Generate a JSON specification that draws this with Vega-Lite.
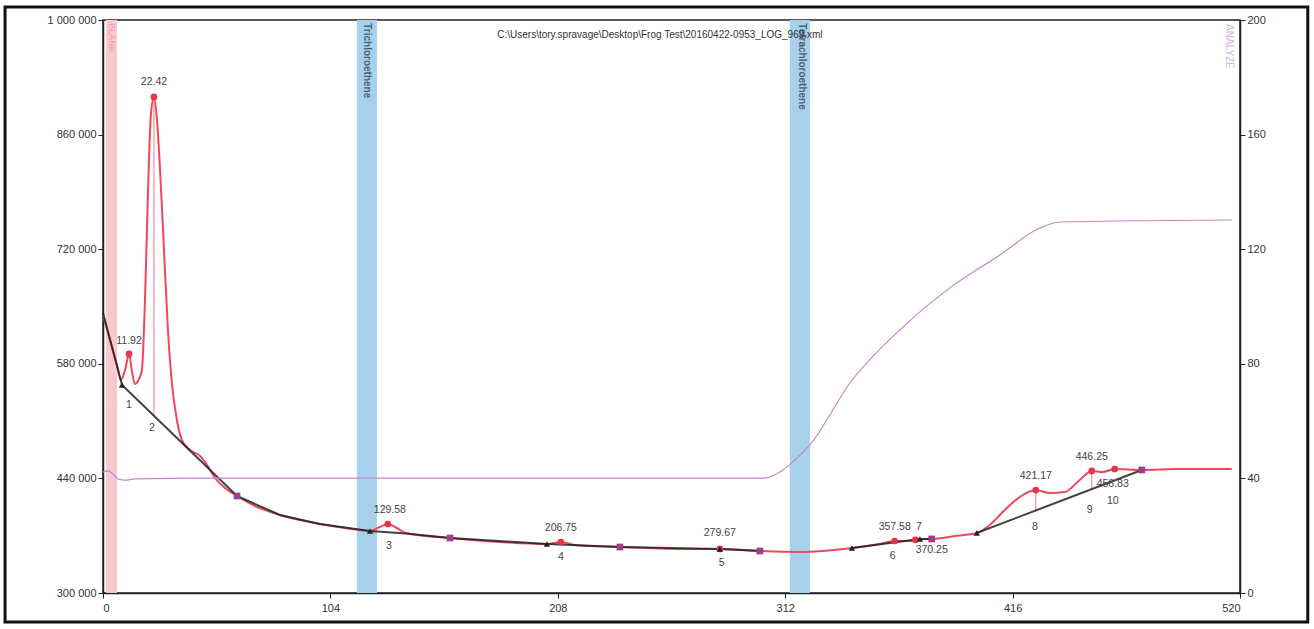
{
  "$schema": "https://vega.github.io/schema/vega-lite/v6.json",
  "width": 1137,
  "height": 573,
  "autosize": {"type": "none"},
  "padding": {"left": 103, "top": 20, "right": 74, "bottom": 36},
  "background": "white",
  "config": {
    "view": {"stroke": "#222", "strokeWidth": 1.5},
    "font": "Liberation Sans",
    "axis": {
      "grid": false,
      "domainColor": "#222",
      "domainWidth": 1.5,
      "tickColor": "#222",
      "tickSize": 5,
      "labelFont": "Liberation Sans",
      "labelFontSize": 11,
      "labelColor": "#333",
      "title": null
    }
  },
  "datasets": {
    "signal": [
      {"x": 0, "v": 639600}, {"x": 3.2, "v": 609100}, {"x": 6.4, "v": 578500}, {"x": 8.2, "v": 560200},
      {"x": 10.1, "v": 572400}, {"x": 11.9, "v": 592000}, {"x": 13.3, "v": 570000}, {"x": 14.6, "v": 555300},
      {"x": 16.5, "v": 561500}, {"x": 17.8, "v": 572400}, {"x": 19.2, "v": 658000}, {"x": 20.6, "v": 792300},
      {"x": 21.9, "v": 884000}, {"x": 23.3, "v": 906000}, {"x": 24.7, "v": 877800}, {"x": 26.1, "v": 816800},
      {"x": 27.9, "v": 719000}, {"x": 29.7, "v": 621300}, {"x": 31.6, "v": 554100}, {"x": 33.8, "v": 511400},
      {"x": 36.1, "v": 486900}, {"x": 39.8, "v": 474700}, {"x": 44.4, "v": 467400}, {"x": 47.6, "v": 456400},
      {"x": 51.2, "v": 440500}, {"x": 55.8, "v": 428300}, {"x": 61.3, "v": 418500}, {"x": 69.5, "v": 406300},
      {"x": 80.9, "v": 395300}, {"x": 99.2, "v": 384300}, {"x": 110.7, "v": 379400}, {"x": 122.1, "v": 375800},
      {"x": 126.6, "v": 380600}, {"x": 130.3, "v": 384300}, {"x": 134.4, "v": 379400}, {"x": 138.5, "v": 373300},
      {"x": 158.7, "v": 367200}, {"x": 181.5, "v": 362300}, {"x": 203, "v": 359900}, {"x": 209.4, "v": 362300},
      {"x": 215.8, "v": 358700}, {"x": 236.4, "v": 356200}, {"x": 263.8, "v": 353800}, {"x": 282.1, "v": 353800},
      {"x": 300.4, "v": 351300}, {"x": 318.7, "v": 350100}, {"x": 342.5, "v": 355000}, {"x": 355.3, "v": 359900},
      {"x": 362.1, "v": 363500}, {"x": 369, "v": 363500}, {"x": 373.6, "v": 366000}, {"x": 379, "v": 366000},
      {"x": 389.6, "v": 369600}, {"x": 399.6, "v": 373300}, {"x": 405.6, "v": 383100}, {"x": 412.4, "v": 401400},
      {"x": 419.3, "v": 417300}, {"x": 426.6, "v": 425800}, {"x": 433, "v": 422200}, {"x": 439.9, "v": 423400},
      {"x": 446.7, "v": 438100}, {"x": 452.2, "v": 449100}, {"x": 457.2, "v": 447800}, {"x": 462.7, "v": 451500},
      {"x": 475.1, "v": 450300}, {"x": 492.5, "v": 451500}, {"x": 516.2, "v": 451500}
    ],
    "baseline": [
      {"seg": "A", "x": 0, "v": 642100}, {"seg": "A", "x": 8.7, "v": 554100}, {"seg": "A", "x": 61.3, "v": 418500},
      {"seg": "B", "x": 61.3, "v": 418500}, {"seg": "B", "x": 80.9, "v": 395300}, {"seg": "B", "x": 99.2, "v": 384300},
      {"seg": "B", "x": 122.1, "v": 375800}, {"seg": "B", "x": 138.5, "v": 372800}, {"seg": "B", "x": 158.7, "v": 367200},
      {"seg": "B", "x": 203, "v": 359900}, {"seg": "B", "x": 236.4, "v": 356200}, {"seg": "B", "x": 282.1, "v": 353800},
      {"seg": "B", "x": 300.4, "v": 351300},
      {"seg": "C", "x": 342.5, "v": 355000}, {"seg": "C", "x": 373.6, "v": 366000}, {"seg": "C", "x": 379, "v": 366000},
      {"seg": "D", "x": 399.6, "v": 373300}, {"seg": "D", "x": 475.1, "v": 450300}
    ],
    "temp": [
      {"x": 0, "t": 42.2}, {"x": 2.3, "t": 42.6}, {"x": 4.6, "t": 41.5}, {"x": 6.9, "t": 39.8},
      {"x": 10.1, "t": 39.4}, {"x": 14.6, "t": 39.8}, {"x": 44.4, "t": 40.1}, {"x": 135.8, "t": 40.1},
      {"x": 302.7, "t": 40.1}, {"x": 309.6, "t": 42.2}, {"x": 316.4, "t": 46.4}, {"x": 323.3, "t": 51.7},
      {"x": 341.6, "t": 73.3}, {"x": 364.4, "t": 91.8}, {"x": 387.3, "t": 106.5}, {"x": 410.2, "t": 118},
      {"x": 428.4, "t": 127.4}, {"x": 437.6, "t": 129.5}, {"x": 516.2, "t": 130.2}
    ],
    "peaks": [
      {"x": 11.9, "v": 592000}, {"x": 23.3, "v": 906000}, {"x": 130.3, "v": 384300}, {"x": 209.4, "v": 362300},
      {"x": 282.1, "v": 353800}, {"x": 362.1, "v": 363500}, {"x": 371.5, "v": 365000}, {"x": 426.6, "v": 425800},
      {"x": 452.2, "v": 449100}, {"x": 462.7, "v": 451500}
    ],
    "triangles": [
      {"x": 8.7, "v": 554100}, {"x": 122.1, "v": 375800}, {"x": 203, "v": 359900}, {"x": 282.1, "v": 353800},
      {"x": 342.5, "v": 355000}, {"x": 373.6, "v": 366000}, {"x": 399.6, "v": 373300}
    ],
    "squares": [
      {"x": 61.3, "v": 418500}, {"x": 158.7, "v": 367200}, {"x": 236.4, "v": 356200}, {"x": 300.4, "v": 351300},
      {"x": 379, "v": 366000}, {"x": 475.1, "v": 450300}
    ],
    "drops": [
      {"x": 23.3, "v": 906000, "v2": 516400},
      {"x": 426.6, "v": 425800, "v2": 399000},
      {"x": 452.2, "v": 449100, "v2": 425800}
    ],
    "labels": [
      {"x": 11.9, "v": 607900, "text": "11.92"}, {"x": 23.3, "v": 924300, "text": "22.42"},
      {"x": 131.2, "v": 401400, "text": "129.58"}, {"x": 209.4, "v": 379400, "text": "206.75"},
      {"x": 282.1, "v": 373300, "text": "279.67"}, {"x": 362.1, "v": 380600, "text": "357.58"},
      {"x": 373.1, "v": 380600, "text": "7"}, {"x": 379, "v": 352600, "text": "370.25"},
      {"x": 426.6, "v": 442900, "text": "421.17"}, {"x": 452.2, "v": 466200, "text": "446.25"},
      {"x": 461.8, "v": 433200, "text": "456.83"},
      {"x": 11.9, "v": 529700, "text": "1"}, {"x": 22.4, "v": 501600, "text": "2"},
      {"x": 130.8, "v": 357400, "text": "3"}, {"x": 209.4, "v": 344000, "text": "4"},
      {"x": 283, "v": 336700, "text": "5"}, {"x": 361.2, "v": 345200, "text": "6"},
      {"x": 426.2, "v": 380600, "text": "8"}, {"x": 451.3, "v": 401400, "text": "9"},
      {"x": 461.8, "v": 412400, "text": "10"}
    ],
    "bands": [
      {"x1": 1.4, "x2": 6.4, "name": "BLANK", "kind": "blank", "tx": 3.9},
      {"x1": 116.1, "x2": 125.3, "name": "Trichloroethene", "kind": "cmp", "tx": 120.7},
      {"x1": 314.1, "x2": 323.3, "name": "Tetrachloroethene", "kind": "cmp", "tx": 319.7}
    ],
    "notes": [
      {"x": 514.9, "v": 995000, "text": "ANALYZE", "kind": "analyze"},
      {"x": 254.7, "v": 981700, "text": "C:\\Users\\tory.spravage\\Desktop\\Frog Test\\20160422-0953_LOG_969.xml", "kind": "title"}
    ],
    "frame": [
      {"x1": -44.8, "x2": 551, "v1": 1015900, "v2": 264600}
    ]
  },
  "layer": [
    {
      "layer": [
        {
          "data": {"name": "bands"},
          "transform": [{"filter": "datum.kind == 'blank'"}],
          "mark": {"type": "rect", "color": "#f9c9d0"},
          "encoding": {
            "x": {"field": "x1", "type": "quantitative", "scale": {"domain": [0, 520], "nice": false, "zero": false},
                  "axis": {"values": [0, 104, 208, 312, 416, 520], "labelPadding": 4}},
            "x2": {"field": "x2"}
          }
        },
        {
          "data": {"name": "bands"},
          "transform": [{"filter": "datum.kind == 'cmp'"}],
          "mark": {"type": "rect", "color": "#a6d0ec"},
          "encoding": {
            "x": {"field": "x1", "type": "quantitative"},
            "x2": {"field": "x2"}
          }
        },
        {
          "data": {"name": "bands"},
          "transform": [{"filter": "datum.kind == 'cmp'"}],
          "mark": {"type": "text", "angle": 90, "align": "left", "baseline": "middle", "fontSize": 10, "fontWeight": "bold", "color": "#4f5f70"},
          "encoding": {
            "x": {"field": "tx", "type": "quantitative"},
            "y": {"datum": 996000, "type": "quantitative"},
            "text": {"field": "name"}
          }
        },
        {
          "data": {"name": "bands"},
          "transform": [{"filter": "datum.kind == 'blank'"}],
          "mark": {"type": "text", "angle": 90, "align": "left", "baseline": "middle", "fontSize": 9, "color": "#eea0ae"},
          "encoding": {
            "x": {"field": "tx", "type": "quantitative"},
            "y": {"datum": 996000, "type": "quantitative"},
            "text": {"field": "name"}
          }
        },
        {
          "data": {"name": "notes"},
          "transform": [{"filter": "datum.kind == 'analyze'"}],
          "mark": {"type": "text", "angle": 90, "align": "left", "baseline": "middle", "fontSize": 10, "color": "#cdb8dc"},
          "encoding": {
            "x": {"field": "x", "type": "quantitative"},
            "y": {"field": "v", "type": "quantitative"},
            "text": {"field": "text"}
          }
        },
        {
          "data": {"name": "notes"},
          "transform": [{"filter": "datum.kind == 'title'"}],
          "mark": {"type": "text", "align": "center", "baseline": "middle", "fontSize": 10, "color": "#333"},
          "encoding": {
            "x": {"field": "x", "type": "quantitative"},
            "y": {"field": "v", "type": "quantitative"},
            "text": {"field": "text"}
          }
        },
        {
          "data": {"name": "drops"},
          "mark": {"type": "rule", "color": "#f07a88", "strokeWidth": 1},
          "encoding": {
            "x": {"field": "x", "type": "quantitative"},
            "y": {"field": "v", "type": "quantitative"},
            "y2": {"field": "v2"}
          }
        },
        {
          "data": {"name": "signal"},
          "mark": {"type": "line", "color": "#f0485a", "strokeWidth": 2, "interpolate": "monotone"},
          "encoding": {
            "x": {"field": "x", "type": "quantitative"},
            "y": {"field": "v", "type": "quantitative",
                  "scale": {"domain": [300000, 1000000], "nice": false, "zero": false},
                  "axis": {"values": [300000, 440000, 580000, 720000, 860000, 1000000],
                           "labelExpr": "join(split(format(datum.value, ','), ','), ' ')"}}
          }
        },
        {
          "data": {"name": "baseline"},
          "mark": {"type": "line", "color": "#222", "strokeWidth": 2, "opacity": 0.85},
          "encoding": {
            "x": {"field": "x", "type": "quantitative"},
            "y": {"field": "v", "type": "quantitative"},
            "detail": {"field": "seg"}
          }
        },
        {
          "data": {"name": "peaks"},
          "mark": {"type": "point", "shape": "circle", "filled": true, "size": 45, "color": "#e8334a", "opacity": 1},
          "encoding": {
            "x": {"field": "x", "type": "quantitative"},
            "y": {"field": "v", "type": "quantitative"}
          }
        },
        {
          "data": {"name": "triangles"},
          "mark": {"type": "point", "shape": "triangle-up", "filled": true, "size": 40, "color": "#222", "opacity": 1},
          "encoding": {
            "x": {"field": "x", "type": "quantitative"},
            "y": {"field": "v", "type": "quantitative"}
          }
        },
        {
          "data": {"name": "squares"},
          "mark": {"type": "point", "shape": "square", "filled": true, "size": 45, "color": "#9c3f8c", "opacity": 1},
          "encoding": {
            "x": {"field": "x", "type": "quantitative"},
            "y": {"field": "v", "type": "quantitative"}
          }
        },
        {
          "data": {"name": "labels"},
          "mark": {"type": "text", "align": "center", "baseline": "middle", "fontSize": 10.5, "color": "#444"},
          "encoding": {
            "x": {"field": "x", "type": "quantitative"},
            "y": {"field": "v", "type": "quantitative"},
            "text": {"field": "text"}
          }
        },
        {
          "data": {"name": "frame"},
          "mark": {"type": "rect", "fill": "transparent", "stroke": "#111", "strokeWidth": 3, "clip": false},
          "encoding": {
            "x": {"field": "x1", "type": "quantitative"},
            "x2": {"field": "x2"},
            "y": {"field": "v1", "type": "quantitative"},
            "y2": {"field": "v2"}
          }
        }
      ]
    },
    {
      "data": {"name": "temp"},
      "mark": {"type": "line", "color": "#c586cc", "strokeWidth": 1.2, "interpolate": "monotone"},
      "encoding": {
        "x": {"field": "x", "type": "quantitative"},
        "y": {"field": "t", "type": "quantitative",
              "scale": {"domain": [0, 200], "nice": false},
              "axis": {"orient": "right", "values": [0, 40, 80, 120, 160, 200]}}
      }
    }
  ],
  "resolve": {"scale": {"y": "independent"}}
}
